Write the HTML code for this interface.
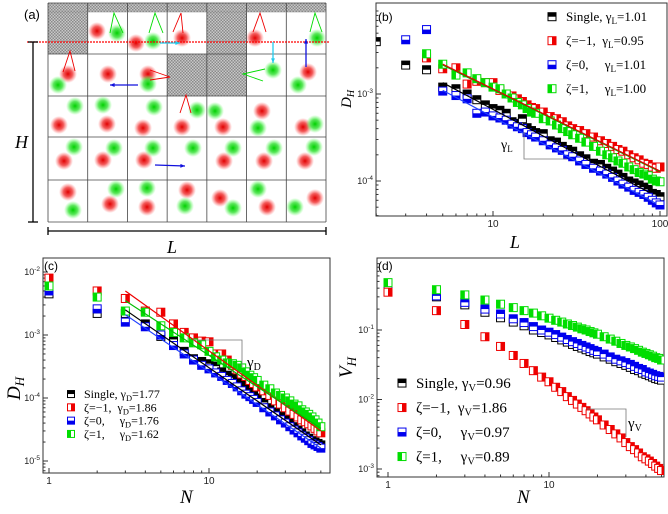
<!DOCTYPE html>
<html><head><meta charset="utf-8"><style>
html,body{margin:0;padding:0;background:#fff}
svg{display:block;font-family:"Liberation Serif",serif}
.s{font-family:"Liberation Sans",sans-serif}
.pre{white-space:pre}
</style></head><body>
<svg id="fig" width="668" height="514" viewBox="0 0 668 514">
<defs>
<pattern id="hatch" width="3" height="3" patternUnits="userSpaceOnUse"><rect width="3" height="3" fill="#c8c8c8"/><rect width="1.5" height="1.5" fill="#8a8a8a"/><rect x="1.5" y="1.5" width="1.5" height="1.5" fill="#8a8a8a"/></pattern>
<radialGradient id="gr"><stop offset="0" stop-color="#e00000"/><stop offset="0.5" stop-color="#f03030" stop-opacity="0.8"/><stop offset="1" stop-color="#ff6060" stop-opacity="0"/></radialGradient>
<radialGradient id="gg"><stop offset="0" stop-color="#00d000"/><stop offset="0.5" stop-color="#30e030" stop-opacity="0.8"/><stop offset="1" stop-color="#60ff60" stop-opacity="0"/></radialGradient>
<clipPath id="cb"><rect x="376" y="3" width="291" height="213"/></clipPath>
<clipPath id="cc"><rect x="43" y="258" width="287" height="215"/></clipPath>
<clipPath id="cd"><rect x="377" y="258" width="287" height="219"/></clipPath>
</defs>
<g id="pa"></g>
<g id="pb"></g>
<g id="pc"></g>
<g id="pd"></g>
</svg>
<script>
// ---------- panel b data ----------
const bL=[2,3,4,5,6,7,8,9,10,11,12,13,14,15,16,17,18,20,22,24,26,28,30,33,36,40,44,48,52,56,60,65,70,75,80,85,90,95,100];
const bSingle=[4.0e-3,2.15e-3,1.9e-3,1.2e-3,1.15e-3,1.0e-3,8.6e-4,7.5e-4,6.8e-4,6.5e-4,6.0e-4,4.8e-4,4.6e-4,5.2e-4,4.1e-4,3.8e-4,3.6e-4,3.5e-4,2.9e-4,2.8e-4,2.5e-4,2.3e-4,2.2e-4,1.95e-4,1.8e-4,1.6e-4,1.55e-4,1.4e-4,1.3e-4,1.2e-4,1.1e-4,1.0e-4,9.5e-5,9.0e-5,8.5e-5,8.0e-5,7.2e-5,7.0e-5,6.6e-5];
const bNeg=[null,null,2.6e-3,1.95e-3,2.0e-3,1.3e-3,1.4e-3,1.35e-3,1.35e-3,1.1e-3,1.0e-3,9.5e-4,8.8e-4,8.2e-4,7.5e-4,7.0e-4,6.8e-4,6.2e-4,5.5e-4,5.2e-4,4.8e-4,4.3e-4,4.0e-4,3.8e-4,3.5e-4,3.2e-4,2.9e-4,2.7e-4,2.5e-4,2.3e-4,2.2e-4,2.0e-4,1.85e-4,1.75e-4,1.6e-4,1.55e-4,1.45e-4,1.4e-4,1.45e-4];
const bZero=[null,4.2e-3,5.5e-3,1.08e-3,9.6e-4,8.8e-4,6e-4,6.2e-4,5.6e-4,5.3e-4,5.0e-4,4.5e-4,4.2e-4,4.0e-4,3.6e-4,3.4e-4,3.2e-4,2.9e-4,2.6e-4,2.4e-4,2.25e-4,2.0e-4,1.9e-4,1.7e-4,1.55e-4,1.4e-4,1.3e-4,1.2e-4,1.1e-4,1.0e-4,9.2e-5,8.5e-5,7.8e-5,7.4e-5,7.0e-5,6.5e-5,6.0e-5,5.6e-5,5.3e-5];
const bPos=[null,null,2.9e-3,2.2e-3,1.65e-3,1.75e-3,1.5e-3,1.35e-3,1.2e-3,1.15e-3,1.0e-3,9.0e-4,8.0e-4,7.5e-4,6.8e-4,6.2e-4,6.0e-4,5.2e-4,4.9e-4,4.4e-4,4.0e-4,3.7e-4,3.4e-4,3.1e-4,2.8e-4,2.5e-4,2.2e-4,2.0e-4,1.85e-4,1.7e-4,1.6e-4,1.45e-4,1.35e-4,1.25e-4,1.2e-4,1.15e-4,1.05e-4,1.0e-4,9.8e-5];
const bFitSingle=[[5,1.35e-3],[85,7.5e-5]];
const bFitNeg=[[5,2.2e-3],[100,1.3e-4]];
const bFitZero=[[5,1.1e-3],[95,5.5e-5]];
const bFitPos=[[5,2.15e-3],[100,1.28e-4]];
const bLegendVals=["1.01","0.95","1.01","1.00"];
// ---------- panel c data ----------
const cN=[1,2,3,4,5,6,7,8,9,10,11,12,13,14,15,16,17,18,19,20,22,24,26,28,30,32,34,36,38,40,42,44,46,48,50];
const cSingle=[4.5e-3,2.2e-3,2.2e-3,1.5e-3,9.5e-4,8.5e-4,5.5e-4,4.2e-4,3.8e-4,3.5e-4,3.2e-4,2.6e-4,2.3e-4,2.1e-4,1.8e-4,1.6e-4,1.4e-4,1.25e-4,1.1e-4,1.0e-4,8.5e-5,7e-5,6e-5,5.2e-5,4.5e-5,4e-5,3.5e-5,3.1e-5,2.8e-5,2.5e-5,2.3e-5,2.1e-5,2.0e-5,1.9e-5,1.8e-5];
const cNeg=[8e-3,5e-3,3.8e-3,2.4e-3,2.3e-3,1.5e-3,1.1e-3,9e-4,8e-4,7.8e-4,5e-4,5e-4,4e-4,3.3e-4,2.8e-4,2.4e-4,2.2e-4,1.9e-4,1.7e-4,1.5e-4,1.3e-4,1.1e-4,9e-5,8e-5,7e-5,6.2e-5,5.5e-5,5e-5,4.5e-5,4.2e-5,3.9e-5,3.6e-5,3.3e-5,3.0e-5,2.8e-5];
const cZero=[5e-3,2.6e-3,1.6e-3,1.35e-3,1.0e-3,6.8e-4,5e-4,4e-4,3.3e-4,2.9e-4,2.5e-4,2.2e-4,1.9e-4,1.7e-4,1.5e-4,1.3e-4,1.15e-4,1.05e-4,9.5e-5,8.5e-5,7e-5,6e-5,5.2e-5,4.5e-5,4e-5,3.5e-5,3.1e-5,2.8e-5,2.5e-5,2.3e-5,2.1e-5,1.9e-5,1.8e-5,1.7e-5,1.6e-5];
const cPos=[6e-3,4e-3,2.4e-3,2.3e-3,1.4e-3,1.1e-3,9e-4,7.5e-4,7e-4,5.5e-4,4.5e-4,4e-4,3.6e-4,3.5e-4,3.3e-4,3e-4,2.6e-4,2.3e-4,2.1e-4,1.9e-4,1.6e-4,1.4e-4,1.2e-4,1.1e-4,1.0e-4,9e-5,8e-5,7.5e-5,6.5e-5,6e-5,5.5e-5,5e-5,4.5e-5,4e-5,3.5e-5];
const cFitSingle=[[3,2.5e-3],[50,1.8e-5]];
const cFitNeg=[[3,5e-3],[50,3e-5]];
const cFitZero=[[3,2.1e-3],[50,1.6e-5]];
const cFitPos=[[3,3.5e-3],[50,3.3e-5]];
const cLegendVals=["1.77","1.86","1.76","1.62"];
// ---------- panel d data ----------
const dN=[1,2,3,4,5,6,7,8,9,10,11,12,13,14,15,16,17,18,19,20,22,24,26,28,30,32,34,36,38,40,42,44,46,48,50];
const dSingle=[0.42,0.3,0.23,0.18,0.15,0.13,0.115,0.1,0.092,0.085,0.078,0.072,0.067,0.062,0.058,0.055,0.052,0.049,0.047,0.045,0.041,0.038,0.035,0.033,0.031,0.029,0.027,0.026,0.024,0.023,0.022,0.021,0.020,0.0195,0.019];
const dNeg=[0.35,0.19,0.12,0.08,0.058,0.043,0.033,0.026,0.021,0.018,0.015,0.013,0.011,0.0097,0.0086,0.0077,0.0069,0.0062,0.0056,0.0051,0.0043,0.0037,0.0032,0.0028,0.0024,0.0021,0.0019,0.0017,0.0015,0.0014,0.0013,0.0012,0.0011,0.00102,0.00095];
const dZero=[0.44,0.31,0.25,0.2,0.17,0.145,0.128,0.112,0.1,0.093,0.086,0.079,0.073,0.068,0.064,0.06,0.057,0.054,0.051,0.049,0.045,0.041,0.038,0.036,0.034,0.032,0.030,0.028,0.027,0.025,0.024,0.023,0.022,0.0215,0.021];
const dPos=[0.48,0.38,0.32,0.27,0.235,0.21,0.19,0.175,0.16,0.148,0.138,0.13,0.122,0.116,0.11,0.104,0.1,0.095,0.091,0.087,0.08,0.074,0.069,0.064,0.06,0.057,0.054,0.051,0.048,0.046,0.044,0.042,0.040,0.039,0.037];
const dLegendVals=["0.96","1.86","0.97","0.89"];
// ---------- panel a scene ----------
const redP=[[97,31],[136,43],[182,38],[255,38],[68,74],[108,74],[148,74],[308,72],[59,125],[107,124],[143,128],[182,127],[223,127],[262,111],[303,127],[64,161],[103,160],[144,160],[224,161],[264,161],[305,161],[68,192],[110,204],[147,207],[187,190],[220,198],[267,207],[315,198]];
const greenP=[[117,33],[153,41],[317,38],[58,85],[148,84],[273,70],[298,85],[75,106],[103,105],[154,107],[197,110],[215,111],[258,128],[315,124],[74,147],[114,148],[153,148],[193,148],[233,148],[274,148],[314,147],[73,210],[116,189],[147,188],[185,206],[233,208],[258,189],[295,207]];

const NS="http://www.w3.org/2000/svg";
function el(tag,attrs,parent,text){const e=document.createElementNS(NS,tag);for(const k in attrs)e.setAttribute(k,attrs[k]);if(text!==undefined)e.textContent=text;parent.appendChild(e);return e;}
function logAxis(v0,p0,v1,p1){const a=Math.log10(v0),b=Math.log10(v1);return v=>p0+(Math.log10(v)-a)*(p1-p0)/(b-a);}
const COL={k:"#000",r:"#ee0000",b:"#0000ee",g:"#00dd00"};
function marker(g,x,y,c,half,s){
  const h=s/2;
  el('rect',{x:x-h,y:y-h,width:s,height:s,fill:'#fff',stroke:c,'stroke-width':1},g);
  let r;
  if(half==='top')r={x:x-h,y:y-h,width:s,height:h};
  else if(half==='bottom')r={x:x-h,y:y,width:s,height:h};
  else if(half==='left')r={x:x-h,y:y-h,width:h,height:s};
  else r={x:x,y:y-h,width:h,height:s};
  r.fill=c;el('rect',r,g);
}
function series(g,xs,ys,X,Y,c,half,name,s){
  const sg=el('g',{},g);
  
  
  xs.forEach((x,i)=>{if(ys[i]!=null)marker(sg,X(x),Y(ys[i]),c,half,s);});
}
function fit(g,pts,X,Y,c,name){
  const l=el('line',{x1:X(pts[0][0]),y1:Y(pts[0][1]),x2:X(pts[1][0]),y2:Y(pts[1][1]),stroke:c,'stroke-width':1.2},g);
  
  
}
function frame(g,x0,y0,x1,y1,X,Y,xt,yt,xlab,ylab,xminor,yminor){
  const f=el('rect',{x:x0,y:y0,width:x1-x0,height:y1-y0,fill:'none',stroke:'#333','stroke-width':1},g);
  
  
  xminor.forEach(v=>{const x=X(v);if(x>x0&&x<x1){el('line',{x1:x,y1:y1,x2:x,y2:y1-2.5,stroke:'#333'},g);}});
  yminor.forEach(v=>{const y=Y(v);if(y>y0&&y<y1){el('line',{x1:x0,y1:y,x2:x0+2.5,y2:y,stroke:'#333'},g);}});
  xt.forEach((v,i)=>{const x=X(v);el('line',{x1:x,y1:y1,x2:x,y2:y1-5,stroke:'#333'},g);
    const t=el('text',{x:x,y:y1+11,'font-size':10,'text-anchor':'middle','class':'s',fill:'#222'},g,xlab[i]);
    });
  yt.forEach((v,i)=>{const y=Y(v);el('line',{x1:x0,y1:y,x2:x0+5,y2:y,stroke:'#333'},g);
    const t=el('text',{x:x0-3,y:y+3,'font-size':9,'text-anchor':'end','class':'s',fill:'#222'},g);
    
    el('tspan',{},t,'10');el('tspan',{dy:-4,'font-size':6.5},t,ylab[i]);});
}
function legend(g,x,y,dy,fs,sub,vals,ms){
  const labs=["Single, γ","ζ=−1,  γ","ζ=0,     γ","ζ=1,     γ"];
  const cs=[COL.k,COL.r,COL.b,COL.g],hs=['top','right','bottom','left'];
  labs.forEach((l,i)=>{
    const lg=el('g',{},g);
    
    
    marker(lg,x,y+i*dy-fs*0.33,cs[i],hs[i],ms);
    const t=el('text',{x:x+ms+6,y:y+i*dy,'font-size':fs,'class':'pre'},lg);
    el('tspan',{},t,l);el('tspan',{dy:3,'font-size':fs*0.7},t,sub);el('tspan',{dy:-3},t,'='+vals[i]);
  });
}
function minors(a,b){const r=[];for(let e=a;e<b;e++)for(let m=1;m<10;m++)r.push(m*Math.pow(10,e));return r;}

// ===== Panel A =====
(function(){
const g=document.getElementById('pa');
const cw=(326-48)/7, rows=[3,54,96,137,180,222];
const gray=[[0,0],[4,0],[3,1],[4,1]];
el('rect',{x:48,y:3,width:278,height:219,fill:'#fff'},g);
el('rect',{x:48,y:3,width:278,height:9,fill:'url(#hatch)'},g);
gray.forEach(([c,r])=>{const t=el('rect',{x:48+c*cw,y:r==0?3:rows[r],width:cw,height:rows[r+1]-(r==0?3:rows[r]),fill:'url(#hatch)'},g);
  });
for(let i=0;i<=7;i++)el('line',{x1:48+i*cw,y1:3,x2:48+i*cw,y2:222,stroke:'#444','stroke-width':0.8},g);
rows.forEach(y=>el('line',{x1:48,y1:y,x2:326,y2:y,stroke:'#444','stroke-width':0.8},g));
el('line',{x1:48,y1:12,x2:326,y2:12,stroke:'#888','stroke-width':0.6},g);
redP.forEach(p=>{const c=el('circle',{cx:p[0],cy:p[1],r:9,fill:'url(#gr)'},g);});
greenP.forEach(p=>{const c=el('circle',{cx:p[0],cy:p[1],r:9,fill:'url(#gg)'},g);});
const dl=el('line',{x1:27,y1:42,x2:330,y2:42,stroke:'#f00','stroke-width':1.3,'stroke-dasharray':'2,1'},g);

const V=[[COL.r,[181,13],[173,32],[183,33]],[COL.r,[260,13],[253,32],[266,32]],[COL.r,[70,51],[63,72],[75,71]],[COL.r,[186,95],[180,113],[191,113]],
 [COL.g,[114,13],[110,33],[123,33]],[COL.g,[155,13],[149,33],[163,33]],[COL.g,[315,13],[310,32],[322,32]],[COL.g,[243,74],[265,69],[263,81]],
 [COL.r,[170,77],[150,70],[150,80]]];
V.forEach(v=>{el('polyline',{points:`${v[2]} ${v[1]} ${v[3]}`,fill:'none',stroke:v[0],'stroke-width':0.9},g);});
function arrow(x1,y1,x2,y2,c){el('line',{x1,y1,x2,y2,stroke:c,'stroke-width':1.3},g);
  const a=Math.atan2(y2-y1,x2-x1),L=5;el('polygon',{points:`${x2},${y2} ${x2-L*Math.cos(a-0.4)},${y2-L*Math.sin(a-0.4)} ${x2-L*Math.cos(a+0.4)},${y2-L*Math.sin(a+0.4)}`,fill:c},g);}
arrow(138,85,110,85,'#1010dd');arrow(155,165,185,166,'#1010dd');arrow(306,67,306,39,'#1010dd');
arrow(160,43,180,43,'#22ccee');arrow(273,42,273,63,'#22ccee');
el('line',{x1:33,y1:42,x2:33,y2:222,stroke:'#000','stroke-width':1.3},g);
el('line',{x1:28,y1:42,x2:38,y2:42,stroke:'#000','stroke-width':1.3},g);
el('line',{x1:28,y1:222,x2:38,y2:222,stroke:'#000','stroke-width':1.3},g);
el('line',{x1:48,y1:231,x2:326,y2:231,stroke:'#000','stroke-width':1.3},g);
el('line',{x1:48,y1:227,x2:48,y2:235,stroke:'#000','stroke-width':1.3},g);
el('line',{x1:326,y1:227,x2:326,y2:235,stroke:'#000','stroke-width':1.3},g);
let t=el('text',{x:15,y:148,'font-size':18,'font-style':'italic'},g,'H');
t=el('text',{x:167,y:253,'font-size':18,'font-style':'italic'},g,'L');
t=el('text',{x:24,y:19,'font-size':13,'class':'s'},g,'(a)');
})();

// ===== Panel B =====
(function(){
const g=document.getElementById('pb');
const X=logAxis(10,493,100,660),Y=logAxis(1e-3,94,1e-4,181);
frame(g,376,3,667,216,X,Y,[10,100],[1e-3,1e-4],['10','100'],['-3','-4'],minors(0,2),minors(-5,-2));
const d=el('g',{'clip-path':'url(#cb)'},g);
series(d,bL,bSingle,X,Y,COL.k,'top','series-single',8);
series(d,bL,bZero,X,Y,COL.b,'bottom','series-zeta-0',8);
series(d,bL,bNeg,X,Y,COL.r,'right','series-zeta-neg1',8);
series(d,bL,bPos,X,Y,COL.g,'left','series-zeta-1',8);
fit(d,bFitSingle,X,Y,'#000','fit-single');fit(d,bFitZero,X,Y,'#2040ff','fit-zeta-0');
fit(d,bFitPos,X,Y,'#00bb00','fit-zeta-1');fit(d,bFitNeg,X,Y,'#dd0000','fit-zeta-neg1');
el('polyline',{points:'524,132 524,159 567,159',fill:'none',stroke:'#777','stroke-width':0.8},g);
let t=el('text',{x:501,y:149,'font-size':14},g);el('tspan',{},t,'γ');el('tspan',{dy:3,'font-size':9},t,'L');

legend(g,552,21,24,13,'L',bLegendVals,8);
t=el('text',{x:378,y:21,'font-size':12,'class':'s'},g,'(b)');
t=el('text',{x:0,y:0,'font-size':15,'font-style':'italic',transform:'translate(351,108) rotate(-90)'},g);el('tspan',{},t,'D');el('tspan',{dy:3,'font-size':10},t,'H');

t=el('text',{x:510,y:248,'font-size':18,'font-style':'italic'},g,'L');
})();

// ===== Panel C =====
(function(){
const g=document.getElementById('pc');
const X=logAxis(1,49,10,209),Y=logAxis(1e-2,272,1e-5,461);
frame(g,43,258,330,473,X,Y,[1,10],[1e-2,1e-3,1e-4,1e-5],['1','10'],['-2','-3','-4','-5'],minors(0,2),minors(-6,-1));
const d=el('g',{'clip-path':'url(#cc)'},g);
series(d,cN,cSingle,X,Y,COL.k,'top','series-single',8);
series(d,cN,cZero,X,Y,COL.b,'bottom','series-zeta-0',8);
series(d,cN,cNeg,X,Y,COL.r,'right','series-zeta-neg1',8);
series(d,cN,cPos,X,Y,COL.g,'left','series-zeta-1',8);
fit(d,cFitNeg,X,Y,'#ee0000','fit-zeta-neg1');fit(d,cFitPos,X,Y,'#00bb00','fit-zeta-1');
fit(d,cFitZero,X,Y,'#2040ff','fit-zeta-0');fit(d,cFitSingle,X,Y,'#000','fit-single');
el('polyline',{points:'193,340 242,340 242,367',fill:'none',stroke:'#777','stroke-width':0.8},g);
let t=el('text',{x:247,y:367,'font-size':15},g);el('tspan',{},t,'γ');el('tspan',{dy:3,'font-size':10},t,'D');

legend(g,71,398,13.3,12,'D',cLegendVals,7);
t=el('text',{x:44,y:270,'font-size':12,'class':'s'},g,'(c)');
t=el('text',{x:0,y:0,'font-size':19,'font-style':'italic',transform:'translate(20,400) rotate(-90)'},g);el('tspan',{},t,'D');el('tspan',{dy:4,'font-size':13},t,'H');

t=el('text',{x:180,y:503,'font-size':19,'font-style':'italic'},g,'N');
})();

// ===== Panel D =====
(function(){
const g=document.getElementById('pd');
const X=logAxis(1,388,10,549),Y=logAxis(0.1,330,1e-3,469);
frame(g,377,258,664,477,X,Y,[1,10],[0.1,0.01,0.001],['1','10'],['-1','-2','-3'],minors(0,2),minors(-4,0));
const d=el('g',{'clip-path':'url(#cd)'},g);
series(d,dN,dSingle,X,Y,COL.k,'top','series-single',8);
series(d,dN,dZero,X,Y,COL.b,'top','series-zeta-0',8);
series(d,dN,dPos,X,Y,COL.g,'left','series-zeta-1',8);
series(d,dN,dNeg,X,Y,COL.r,'right','series-zeta-neg1',8);
el('polyline',{points:'587,409 626,409 626,437',fill:'none',stroke:'#777','stroke-width':0.8},g);
let t=el('text',{x:628,y:428,'font-size':15},g);el('tspan',{},t,'γ');el('tspan',{dy:3,'font-size':10},t,'V');

legend(g,402,388,24.5,15,'V',dLegendVals,8);
t=el('text',{x:378,y:270,'font-size':12,'class':'s'},g,'(d)');
t=el('text',{x:0,y:0,'font-size':19,'font-style':'italic',transform:'translate(352,378) rotate(-90)'},g);el('tspan',{},t,'V');el('tspan',{dy:4,'font-size':13},t,'H');

t=el('text',{x:517,y:503,'font-size':19,'font-style':'italic'},g,'N');
})();
</script>
</body></html>
